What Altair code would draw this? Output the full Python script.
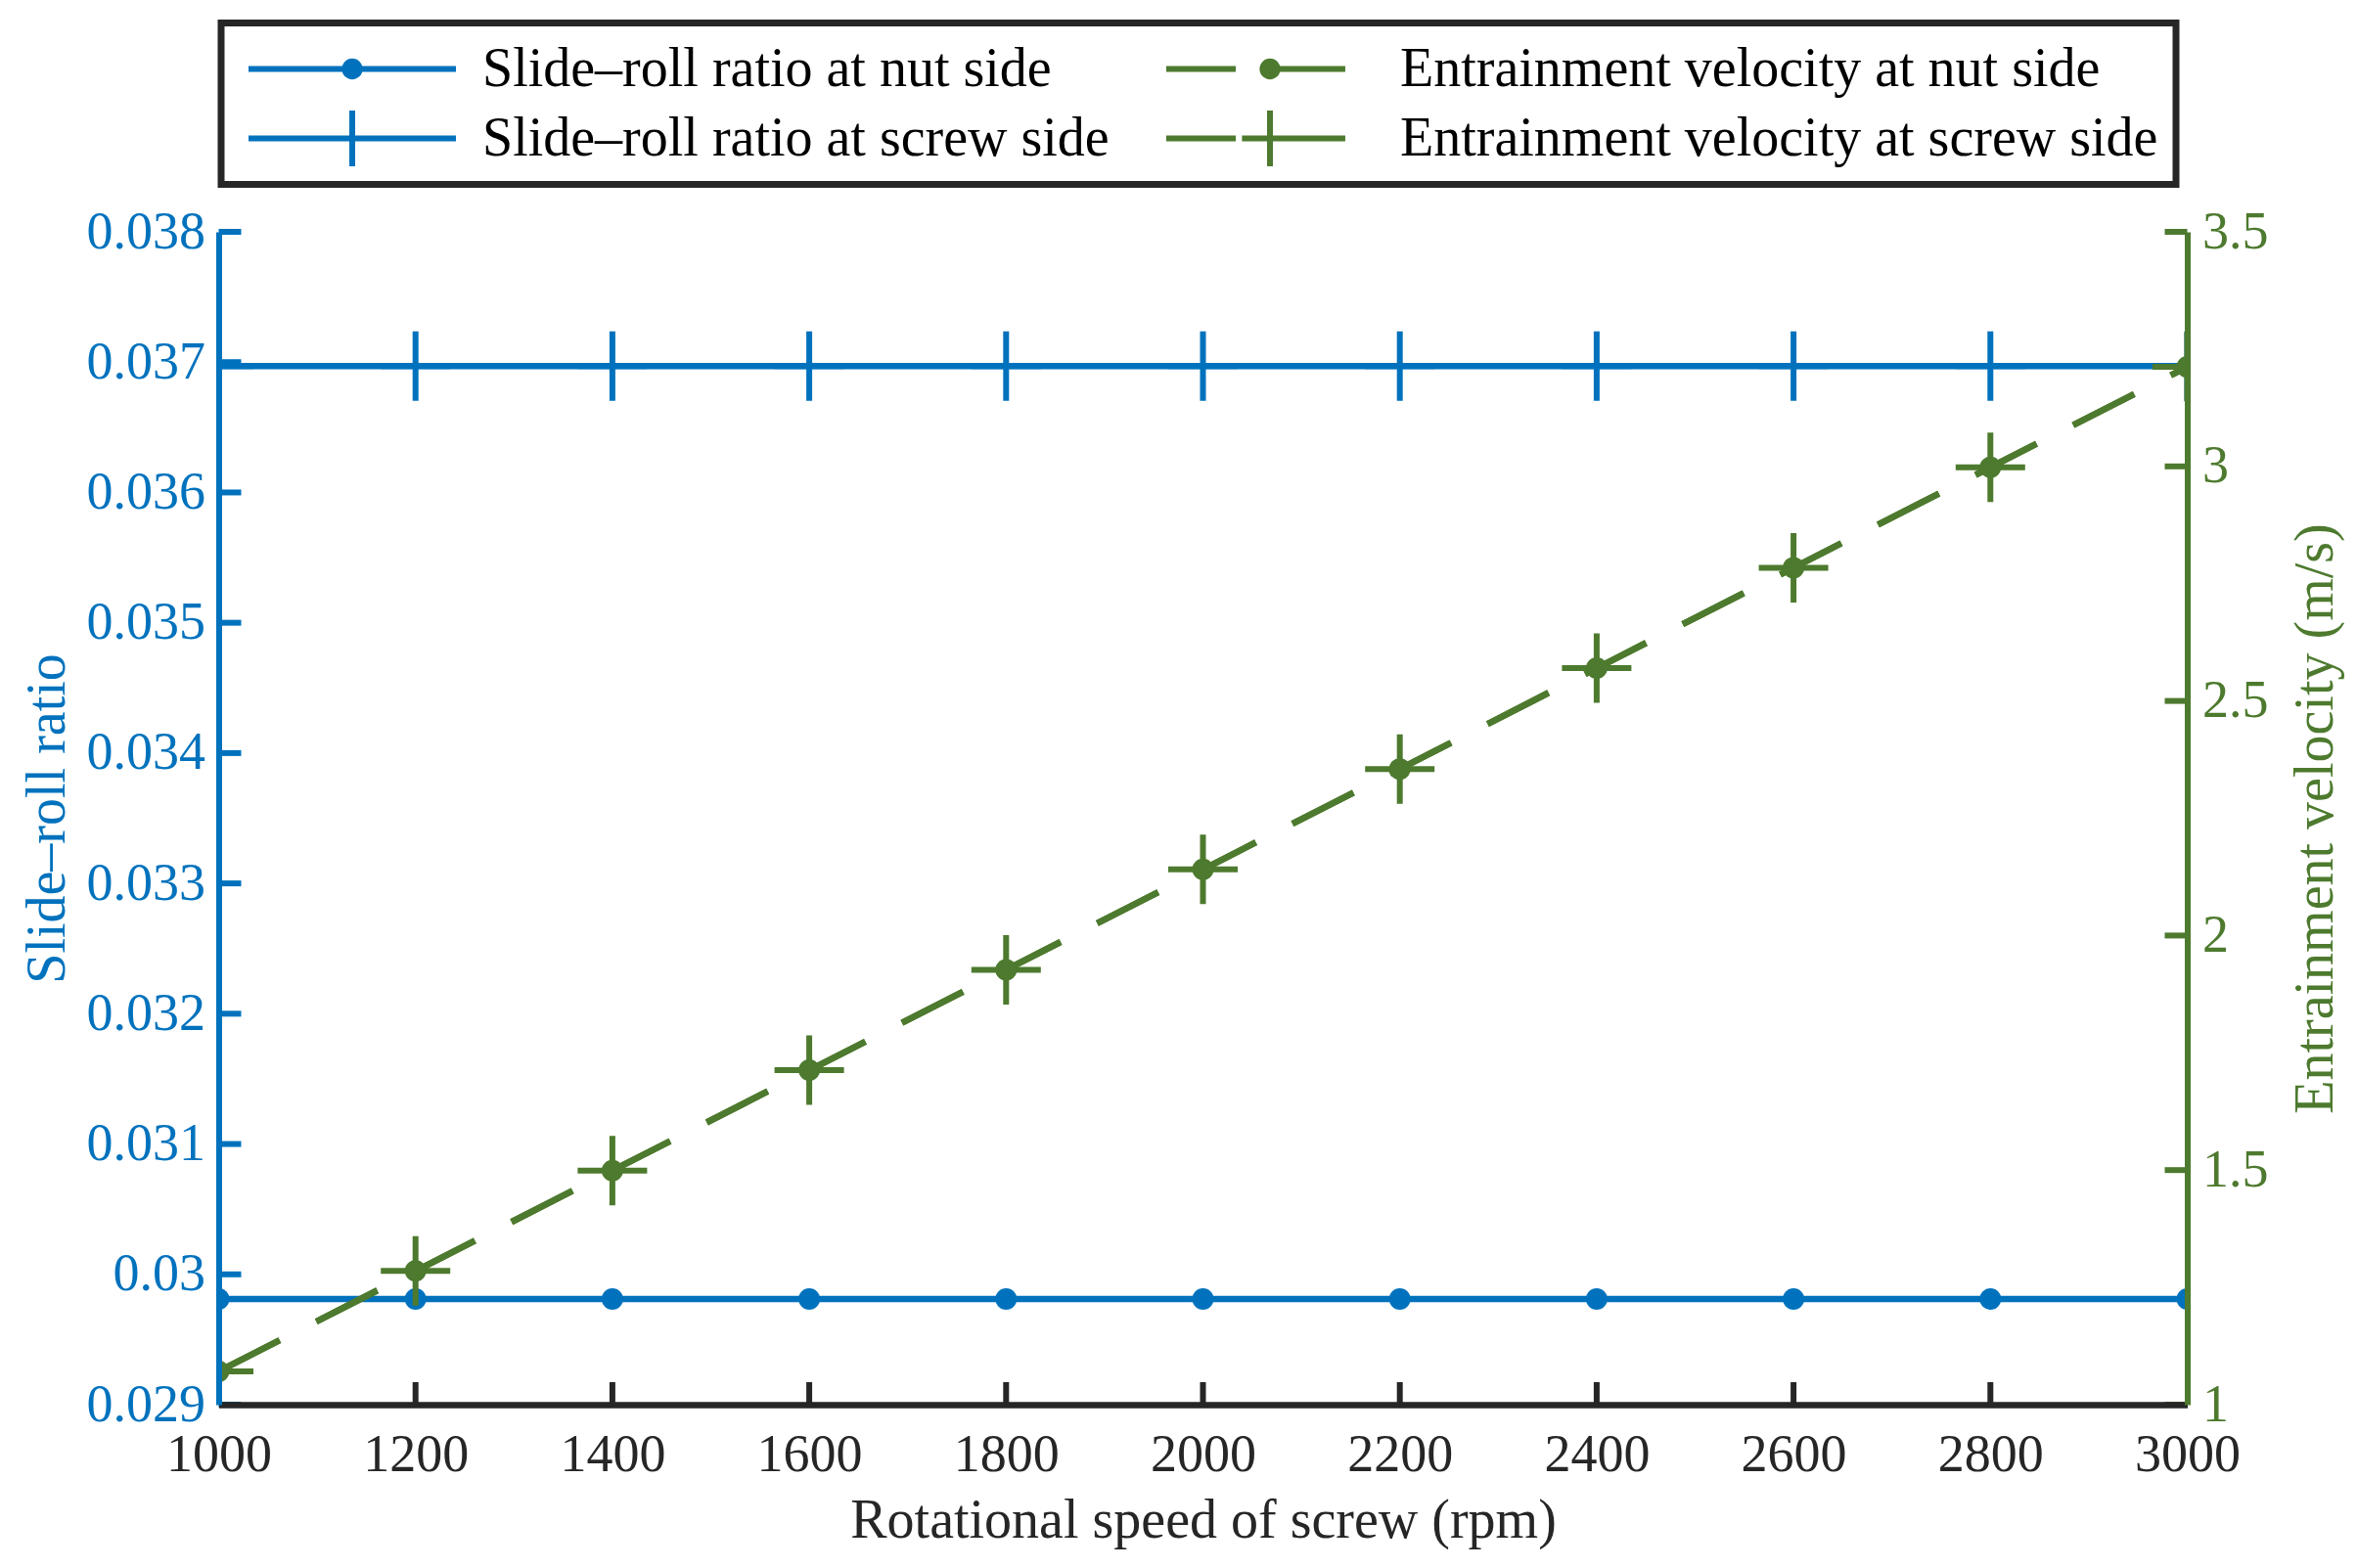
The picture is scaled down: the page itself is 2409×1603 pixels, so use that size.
import altair as alt
import pandas as pd

# ---------------- data ----------------
rpm = [1000, 1200, 1400, 1600, 1800, 2000, 2200, 2400, 2600, 2800, 3000]
sr_nut = [0.02981, 0.02981, 0.02981, 0.02981, 0.02981, 0.02981, 0.02981, 0.02981, 0.02981, 0.02981, 0.02981]
sr_screw = [0.03697, 0.03697, 0.03697, 0.03697, 0.03697, 0.03697, 0.03697, 0.03697, 0.03697, 0.03697, 0.03697]
ev_nut = [1.071, 1.285, 1.499, 1.713, 1.927, 2.141, 2.355, 2.570, 2.784, 2.998, 3.212]
ev_screw = [1.071, 1.285, 1.499, 1.713, 1.927, 2.141, 2.355, 2.570, 2.784, 2.998, 3.212]

# legend order (Vega fills the 2-column legend column by column)
series = ["Slide–roll ratio at nut side", "Slide–roll ratio at screw side",
          "Entrainment velocity at nut side", "Entrainment velocity at screw side"]

x_ticks = [1000, 1200, 1400, 1600, 1800, 2000, 2200, 2400, 2600, 2800, 3000]
left_ticks = [0.029, 0.030, 0.031, 0.032, 0.033, 0.034, 0.035, 0.036, 0.037, 0.038]
right_ticks = [1.0, 1.5, 2.0, 2.5, 3.0, 3.5]

BLUE = "#0072BD"
GREEN = "#4D7A2E"
DARK = "#262626"
FONT = "Liberation Serif"
colors = [BLUE, BLUE, GREEN, GREEN]


def frame(vals):
    return pd.DataFrame({"rpm": rpm, "value": vals})


df_lt = pd.DataFrame({"rpm": [x_ticks[0]] * len(left_ticks), "value": left_ticks})
df_bt = pd.DataFrame({"rpm": x_ticks[1:-1], "value": [left_ticks[0]] * (len(x_ticks) - 2)})
df_rt = pd.DataFrame({"rpm": [x_ticks[-1]] * len(right_ticks), "value": right_ticks})
df_legend = pd.DataFrame({"rpm": pd.Series([], dtype=float),
                          "value": pd.Series([], dtype=float),
                          "series": pd.Series([], dtype=str)})

# ---------------- legend symbols (line + marker, unit = half symbol width) ----------------
legend_paths = [
    "M-1,0H1M0.072,0A0.072,0.072,0,1,1,-0.072,0A0.072,0.072,0,1,1,0.072,0Z",
    "M-1,0H1M0,-0.27V0.27",
    "M-1,0H-0.33M-0.05,0H0.726M0.072,0A0.072,0.072,0,1,1,-0.072,0A0.072,0.072,0,1,1,0.072,0Z",
    "M-1,0H-0.33M-0.27,0H0.726M0,-0.27V0.27",
]

legend = alt.Legend(
    orient="none", legendX=2.5, legendY=-213.5, columns=2, title=None,
    symbolSize=44944, symbolStrokeWidth=6, symbolOffset=7,
    clipHeight=58, rowPadding=13, columnPadding=48, labelOffset=24,
    labelFont=FONT, labelFontSize=56, labelColor="black", labelLimit=3000,
    padding=18, strokeColor=DARK, fillColor="white", symbolOpacity=1,
)

# ---------------- axes ----------------
x_axis = alt.Axis(
    title="Rotational speed of screw (rpm)", values=x_ticks, format="d",
    ticks=False, tickSize=0, grid=False, zindex=1,
    domainColor=DARK, domainWidth=6.5,
    labelColor=DARK, labelFont=FONT, labelFontSize=54, labelPadding=67,
    labelBaseline="alphabetic", labelFlush=False, labelOverlap=False,
    titleFont=FONT, titleFontSize=56, titleFontWeight="normal", titleColor=DARK,
    titleX=1006, titleY=135, titleBaseline="alphabetic",
)
left_axis = alt.Axis(
    title="Slide–roll ratio", values=left_ticks, format=".3~f", orient="left",
    ticks=False, tickSize=0, grid=False, zindex=1,
    domainColor=BLUE, domainWidth=6,
    labelColor=BLUE, labelFont=FONT, labelFontSize=54, labelPadding=14,
    labelBaseline="middle", labelFlush=False, labelOverlap=False,
    titleFont=FONT, titleFontSize=56, titleFontWeight="normal", titleColor=BLUE,
    titleX=-158.5, titleY=599.5, titleAngle=270, titleBaseline="alphabetic",
)
right_axis = alt.Axis(
    title="Entrainment velocity (m/s)", values=right_ticks, format=".1~f", orient="right",
    ticks=False, tickSize=0, grid=False, zindex=1,
    domainColor=GREEN, domainWidth=6,
    labelColor=GREEN, labelFont=FONT, labelFontSize=54, labelPadding=15,
    labelBaseline="middle", labelFlush=False, labelOverlap=False,
    titleFont=FONT, titleFontSize=56, titleFontWeight="normal", titleColor=GREEN,
    titleX=148, titleY=599.5, titleAngle=270, titleBaseline="alphabetic",
)

x_enc = alt.X("rpm:Q", scale=alt.Scale(domain=[1000, 3000], nice=False, zero=False), axis=x_axis)
y_left = alt.Y("value:Q", scale=alt.Scale(domain=[0.029, 0.038], nice=False, zero=False), axis=left_axis)
y_right = alt.Y("value:Q", scale=alt.Scale(domain=[1, 3.5], nice=False, zero=False), axis=right_axis)

PLUS = "M-1,0H1M0,-1V1"


def line(vals, col, y, dash=None):
    kw = dict(strokeWidth=6.5, color=col, clip=True)
    if dash:
        kw["strokeDash"] = dash
    return alt.Chart(frame(vals)).mark_line(**kw).encode(x=x_enc, y=y)


def dots(vals, col, y):
    return alt.Chart(frame(vals)).mark_point(
        shape="circle", filled=True, size=484, opacity=1, color=col, clip=True).encode(x=x_enc, y=y)


def plus(vals, col, y):
    return alt.Chart(frame(vals)).mark_point(
        shape=PLUS, filled=False, size=5041, strokeWidth=6, opacity=1, color=col,
        clip=True).encode(x=x_enc, y=y)


# legend-only layer (no data): stroke, fill and shape share the series domain -> one legend
legend_layer = alt.Chart(df_legend).mark_point(filled=True, opacity=1, strokeWidth=6).encode(
    x=x_enc, y=y_left,
    stroke=alt.Stroke("series:N", scale=alt.Scale(domain=series, range=colors), legend=legend),
    fill=alt.Fill("series:N", scale=alt.Scale(domain=series, range=colors), legend=legend),
    shape=alt.Shape("series:N", scale=alt.Scale(domain=series, range=legend_paths), legend=legend),
)

# ---------------- left (slide-roll ratio) ----------------
lt = alt.Chart(df_lt).mark_tick(orient="horizontal", size=23, thickness=6, xOffset=11.5,
                                color=BLUE, opacity=1).encode(x=x_enc, y=y_left)
bt = alt.Chart(df_bt).mark_tick(orient="vertical", size=23, thickness=6, yOffset=-11.5,
                                color=DARK, opacity=1).encode(x=x_enc, y=y_left)
left = alt.layer(
    line(sr_nut, BLUE, y_left), line(sr_screw, BLUE, y_left),
    dots(sr_nut, BLUE, y_left), plus(sr_screw, BLUE, y_left),
    lt, bt, legend_layer,
)

# ---------------- right (entrainment velocity) ----------------
rt = alt.Chart(df_rt).mark_tick(orient="horizontal", size=23, thickness=6, xOffset=-11.5,
                                color=GREEN, opacity=1).encode(x=x_enc, y=y_right)
right = alt.layer(
    line(ev_nut, GREEN, y_right, dash=[70, 42]), line(ev_screw, GREEN, y_right, dash=[70, 42]),
    dots(ev_nut, GREEN, y_right), plus(ev_screw, GREEN, y_right),
    rt,
)

chart = alt.layer(left, right).resolve_scale(y="independent").properties(
    width=2012, height=1199,
    autosize=alt.AutoSizeParams(type="none"),
    padding={"left": 215.5, "top": 229, "right": 165, "bottom": 150},
    background="white",
).configure(font=FONT).configure_view(stroke=None).configure_legend(strokeWidth=7)

chart.save("out.html", embed_options={"renderer": "svg", "actions": False})
